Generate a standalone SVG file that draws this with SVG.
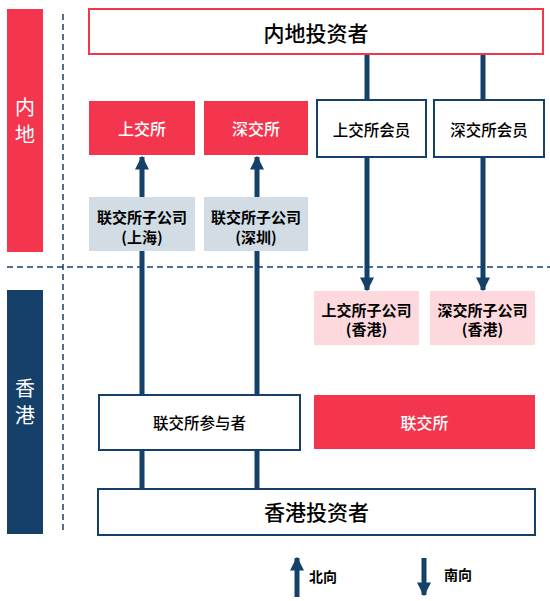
<svg xmlns="http://www.w3.org/2000/svg" width="550" height="601" viewBox="0 0 550 601">
<style>
.t{font-family:"Noto Sans CJK SC","Noto Sans",sans-serif;text-anchor:middle;dominant-baseline:central}
.red{fill:#F3354D}
.navy{fill:#15406A}
.ob{fill:#fff;stroke:#15406A;stroke-width:2}
.or{fill:#fff;stroke:#F3354D;stroke-width:2}
.w{fill:#fff}
.k{fill:#000}
.m{font-weight:500}
.b{font-weight:bold}
.ln{stroke:#15406A;stroke-width:5;fill:none}
.dash{stroke:#15406A;stroke-width:1.5;stroke-dasharray:6,4;fill:none}
</style>
<defs>
<marker id="ah" viewBox="0 0 10 10" refX="9" refY="5" markerWidth="2.8" markerHeight="2.8" markerUnits="strokeWidth" orient="auto">
<path d="M0,0 L10,5 L0,10 z" fill="#15406A"/>
</marker>
</defs>
<g id="regions">
<rect class="red" x="7" y="9" width="36" height="243"/>
<text class="t w" x="25" y="106" font-size="20">内</text>
<text class="t w" x="25" y="133" font-size="20">地</text>
<rect class="navy" x="7" y="290" width="36" height="244"/>
<text class="t w" x="25" y="387" font-size="20">香</text>
<text class="t w" x="25" y="414" font-size="20">港</text>
<line class="dash" x1="63" y1="14" x2="63" y2="534"/>
<line class="dash" x1="7" y1="267" x2="550" y2="267"/>
</g>
<g id="connectors">
<line class="ln" x1="142" y1="395" x2="142" y2="157" marker-end="url(#ah)"/>
<line class="ln" x1="257" y1="395" x2="257" y2="157" marker-end="url(#ah)"/>
<line class="ln" x1="367" y1="54" x2="367" y2="100"/>
<line class="ln" x1="367" y1="157" x2="367" y2="290" marker-end="url(#ah)"/>
<line class="ln" x1="483" y1="54" x2="483" y2="100"/>
<line class="ln" x1="483" y1="157" x2="483" y2="290" marker-end="url(#ah)"/>
<line class="ln" x1="142" y1="450" x2="142" y2="489"/>
<line class="ln" x1="257" y1="450" x2="257" y2="489"/>
</g>
<g id="mainland-investors">
<rect class="or" x="89" y="9" width="454" height="45"/>
<text class="t k m" x="316" y="32" font-size="21">内地投资者</text>
</g>
<g id="sse">
<rect class="red" x="89" y="101" width="106" height="54"/>
<text class="t w m" x="142" y="128" font-size="16">上交所</text>
</g>
<g id="szse">
<rect class="red" x="204" y="101" width="104" height="54"/>
<text class="t w m" x="256" y="128" font-size="16">深交所</text>
</g>
<g id="sse-member">
<rect class="ob" x="317" y="100" width="109" height="57"/>
<text class="t k m" x="371.5" y="129" font-size="15.5">上交所会员</text>
</g>
<g id="szse-member">
<rect class="ob" x="434" y="100" width="110" height="57"/>
<text class="t k m" x="489" y="129" font-size="15.5">深交所会员</text>
</g>
<g id="hkex-sub-sh">
<rect fill="#D1DCE5" x="89" y="197" width="106" height="54"/>
<text class="t k b" x="142" y="216" font-size="15">联交所子公司</text>
<text class="t k b" x="142" y="236" font-size="15">(上海)</text>
</g>
<g id="hkex-sub-sz">
<rect fill="#D1DCE5" x="204" y="197" width="104" height="54"/>
<text class="t k b" x="256" y="216" font-size="15">联交所子公司</text>
<text class="t k b" x="256" y="236" font-size="15">(深圳)</text>
</g>
<g id="sse-sub-hk">
<rect fill="#FDD8DD" x="314" y="291" width="105" height="54"/>
<text class="t k b" x="366.5" y="309" font-size="15">上交所子公司</text>
<text class="t k b" x="366.5" y="328" font-size="15">(香港)</text>
</g>
<g id="szse-sub-hk">
<rect fill="#FDD8DD" x="430" y="291" width="105" height="54"/>
<text class="t k b" x="482.5" y="309" font-size="15">深交所子公司</text>
<text class="t k b" x="482.5" y="328" font-size="15">(香港)</text>
</g>
<g id="hkex-participant">
<rect class="ob" x="99" y="395" width="201" height="55"/>
<text class="t k m" x="199.5" y="422" font-size="15.5">联交所参与者</text>
</g>
<g id="hkex">
<rect class="red" x="314" y="395" width="221" height="54"/>
<text class="t w m" x="424.5" y="422" font-size="16">联交所</text>
</g>
<g id="hk-investors">
<rect class="ob" x="98" y="489" width="437" height="46"/>
<text class="t k m" x="316.5" y="511" font-size="21">香港投资者</text>
</g>
<g id="legend">
<line class="ln" x1="297" y1="597" x2="297" y2="558" marker-end="url(#ah)"/>
<text class="t k b" x="323" y="576" font-size="14">北向</text>
<line class="ln" x1="424" y1="558" x2="424" y2="595" marker-end="url(#ah)"/>
<text class="t k b" x="458" y="574" font-size="14">南向</text>
</g>
</svg>
